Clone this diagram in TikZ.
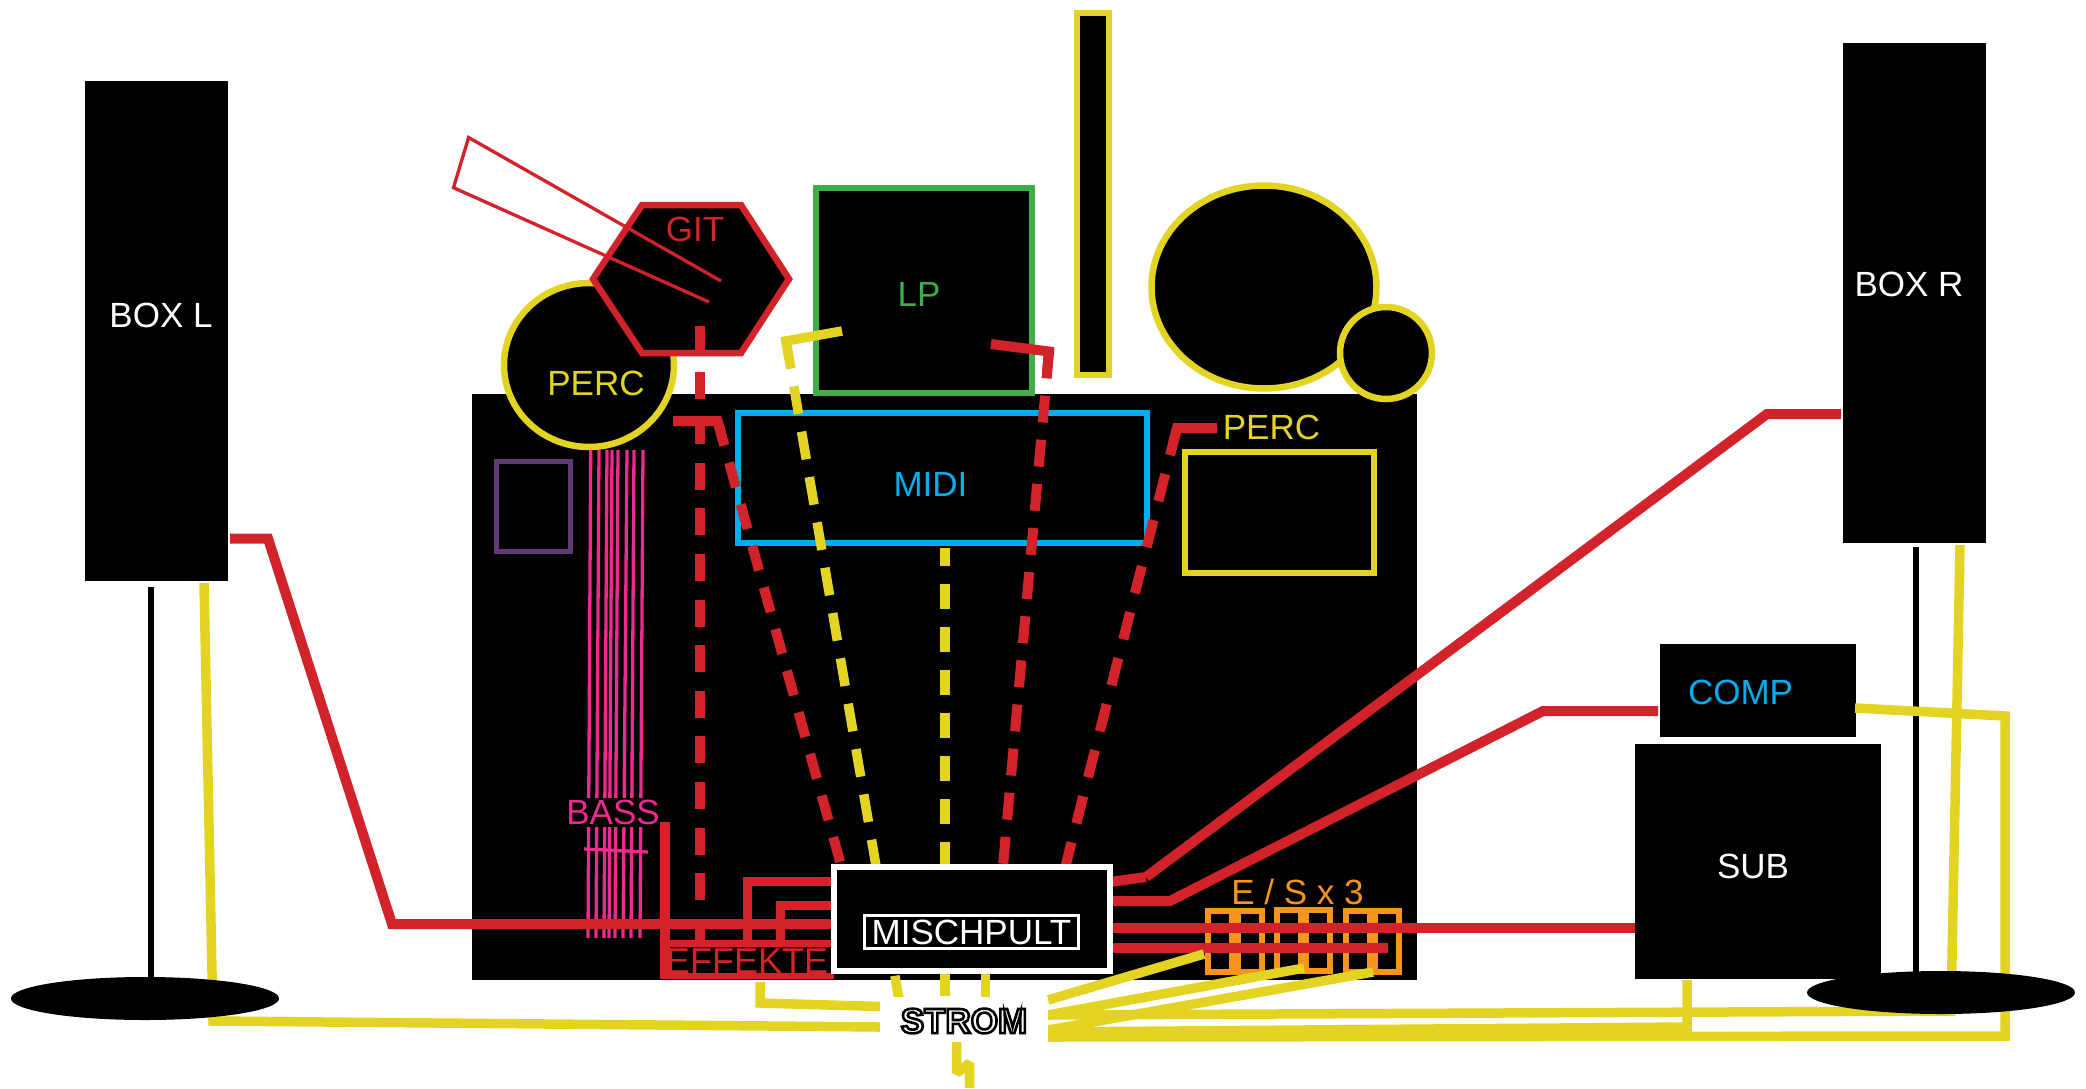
\documentclass[tikz,border=0pt]{standalone}
\usepackage{fontspec}
\setmainfont{Liberation Sans}
\usetikzlibrary{shapes.geometric}
\definecolor{cred}{HTML}{D2232A}
\definecolor{cyel}{HTML}{E3D424}
\definecolor{cgrn}{HTML}{3FAE49}
\definecolor{cblu}{HTML}{00AEEF}
\definecolor{cpnk}{HTML}{EC2A90}
\definecolor{cpur}{HTML}{5F3A75}
\definecolor{corg}{HTML}{F7941D}
\newcommand{\outlinedword}[1]{\special{pdf:code 2 Tr 2.6 w 0 0 0 RG}#1\special{pdf:code 0 Tr 1 w}}
\tikzset{
  x=1pt,y=-1pt,
  every node/.style={inner sep=0pt,outer sep=0pt},
  lbl/.style={font=\fontsize{35}{40}\selectfont},
  box/.style={fill=black,anchor=north west},
  framed/.style={fill=black,draw=#1,line width=6.5pt,anchor=north west},
  redline/.style={draw=cred,line width=10pt},
  yelline/.style={draw=cyel,line width=9.5pt},
  reddash/.style={redline,dash pattern=#1},
  yeldash/.style={yelline,dash pattern=#1},
  esbox/.style={draw=corg,line width=6pt,anchor=north west,minimum width=24pt,minimum height=61pt},
  string/.style={draw=cpnk,line width=3.3pt},
  neck/.style={draw=cred,line width=3.3pt},
  stand/.style={draw=black,line width=6pt},
  foot/.style={ellipse,fill=black,minimum width=268pt,minimum height=43pt},
}
\begin{document}
\begin{tikzpicture}
\useasboundingbox (0,0) rectangle (2086,1088);
\fill[white] (0,0) rectangle (2086,1088);

% ---------- stands and speakers
\node[box,minimum width=143pt,minimum height=500pt] (boxl) at (85,81) {};
\node[box,minimum width=143pt,minimum height=500pt] (boxr) at (1843,43) {};
\coordinate (sl1) at (151,587); \coordinate (sl2) at (151,980);
\coordinate (sr1) at (1916,547); \coordinate (sr2) at (1916,975);
\draw[stand] (sl1) -- (sl2);
\draw[stand] (sr1) -- (sr2);
\node[lbl,text=white] (boxltxt) at (161,315.5) {BOX L};
\node[lbl,text=white] (boxrtxt) at (1909,284) {BOX R};

% ---------- table
\node[box,minimum width=945pt,minimum height=586pt] (table) at (472,393.5) {};

% ---------- top row
\node[ellipse,fill=black,draw=cyel,line width=6.5pt,minimum width=170pt,minimum height=164pt] (percl) at (589,365) {};
\coordinate (h1) at (642,205); \coordinate (h2) at (741,205); \coordinate (h3) at (789,279);
\coordinate (h4) at (741,353); \coordinate (h5) at (642,353); \coordinate (h6) at (593,279);
\draw[fill=black,draw=cred,line width=6.5pt] (h1) -- (h2) -- (h3) -- (h4) -- (h5) -- (h6) -- cycle;
\coordinate (n1) at (721,281); \coordinate (n2) at (468.6,137.5);
\coordinate (n3) at (453.5,187.7); \coordinate (n4) at (709,302);
\draw[neck] (n1) -- (n2) -- (n3) -- (n4);
\node[lbl,text=cred] (gittxt) at (695,229) {GIT};
\node[lbl,text=cyel] (perctxt) at (596,383.5) {PERC};

\node[framed=cgrn,minimum width=216pt,minimum height=205pt] (lp) at (816,188) {};
\node[lbl,text=cgrn] (lptxt) at (919,294) {LP};
\node[framed=cyel,minimum width=32pt,minimum height=362pt] (tall) at (1077,13) {};
\node[ellipse,fill=black,draw=cyel,line width=6.5pt,minimum width=225pt,minimum height=203pt] (bigperc) at (1264,287) {};
\node[circle,fill=black,draw=cyel,line width=6.5pt,minimum size=92pt] (smallperc) at (1386,353) {};

% ---------- on the table
\node[framed=cblu,minimum width=409pt,minimum height=130pt] (midi) at (738,413) {};
\node[lbl,text=cblu] (miditxt) at (930.5,484) {MIDI};
\node[lbl,text=cyel] (percrtxt) at (1271.5,427) {PERC};
\node[framed=cyel,minimum width=189pt,minimum height=121pt] (percr) at (1185,452) {};
\node[anchor=north west,draw=cpur,line width=5pt,minimum width=74pt,minimum height=90pt] (purple) at (496.5,461.5) {};

% ---------- bass
\foreach \a/\b [count=\i] in {590.7/588,599/596,607/604,612/609,618/615,627/623,634/631,643/640}{
  \coordinate (st\i) at (\a,450); \coordinate (sb\i) at (\b,938);
  \draw[string] (st\i) -- (sb\i);
}
\node[lbl,text=cpnk,fill=black,minimum height=29pt,minimum width=95pt] (bass) at (613,812.5) {BASS};
\coordinate (bc1) at (584,849); \coordinate (bc2) at (648,852);
\draw[string] (bc1) -- (bc2);

% ---------- effects
\node[lbl,text=cred,font=\fontsize{36}{40}\selectfont] (effekte) at (747,961) {EFFEKTE};
\coordinate (fxa) at (664.5,822); \coordinate (fxb) at (664.5,979);
\coordinate (fxc) at (660,943.5); \coordinate (fxd) at (834,943.5);
\coordinate (fxe) at (660,976); \coordinate (fxf) at (834,976);
\draw[redline] (fxa) -- (fxb);
\draw[cred,line width=6.5pt] (fxc) -- (fxd);
\draw[cred,line width=6.5pt] (fxe) -- (fxf);

% ---------- E/S boxes
\node[lbl,text=corg] (estxt) at (1297.5,891.5) {E / S x 3};
\foreach \n/\x/\y in {es1/1208/911,es2/1237.5/911,es3/1277/910,es4/1306/910,es5/1346/911,es6/1375/911}{
  \node[esbox] (\n) at (\x,\y) {};
}

% ---------- sub and comp
\node[box,minimum width=246pt,minimum height=235pt] (sub) at (1635,744) {};
\node[lbl,text=white] (subtxt) at (1753,866.5) {SUB};
\node[box,minimum width=196pt,minimum height=93pt] (comp) at (1660,644) {};
\node[lbl,text=cblu] (comptxt) at (1740.5,692) {COMP};

% ---------- connector points
\coordinate (mixL) at (835,924);
\coordinate (ra) at (230,538.5); \coordinate (rb) at (268,538.5); \coordinate (rc) at (392,924);
\coordinate (fx1a) at (747,943); \coordinate (fx1b) at (747,881); \coordinate (fx1c) at (835,881);
\coordinate (fx2a) at (780,943); \coordinate (fx2b) at (780,905); \coordinate (fx2c) at (835,905);
\coordinate (git1) at (700,326); \coordinate (git2) at (700,943);
\coordinate (hk1a) at (673,421); \coordinate (hk1b) at (717.5,421); \coordinate (hk1c) at (722.5,439);
\coordinate (hk1d) at (841,865);
\coordinate (hk2a) at (842,331); \coordinate (hk2b) at (786,341); \coordinate (hk2c) at (789,358);
\coordinate (hk2d) at (899,1000);
\coordinate (hk3a) at (991,344); \coordinate (hk3b) at (1049,351.5); \coordinate (hk3c) at (1047,372);
\coordinate (hk3d) at (1003,866);
\coordinate (hk4a) at (1217,428); \coordinate (hk4b) at (1177,428); \coordinate (hk4c) at (1173,444);
\coordinate (hk4d) at (1065,868);
\coordinate (mid1) at (945,547.5); \coordinate (mid2) at (945,997);
\coordinate (st2a) at (985.6,972); \coordinate (st2b) at (985.6,997);

% ---------- red cables
\draw[redline] (ra) -- (rb) -- (rc) -- (mixL);
\draw[redline,line width=9pt] (fx1a) -- (fx1b) -- (fx1c);
\draw[redline,line width=9pt] (fx2a) -- (fx2b) -- (fx2c);
\draw[reddash={on 27pt off 18.6pt}] (git1) -- (git2);
\draw[redline] (hk1a) -- (hk1b) -- (hk1c);
\draw[reddash={on 25.5pt off 17.7pt}] (hk1b) -- (hk1d);
\draw[redline] (hk3a) -- (hk3b) -- (hk3c);
\draw[reddash={on 27pt off 17.3pt}] (hk3b) -- (hk3d);
\draw[redline] (hk4a) -- (hk4b) -- (hk4c);
\draw[reddash={on 28pt off 19.5pt}] (hk4b) -- (hk4d);

% ---------- yellow dashed
\draw[yelline] (hk2a) -- (hk2b) -- (hk2c);
\draw[yeldash={on 28pt off 18pt}] (hk2b) -- (hk2d);
\draw[yelline,dash pattern=on 25pt off 18pt,dash phase=6.5pt] (mid1) -- (mid2);
\draw[yelline] (st2a) -- (st2b);

% ---------- right red cables
\coordinate (o1a) at (1110,882); \coordinate (o1b) at (1146,877); \coordinate (o1c) at (1767,414); \coordinate (o1d) at (1841,414);
\coordinate (o2a) at (1110,901); \coordinate (o2b) at (1170,901); \coordinate (o2c) at (1543,711); \coordinate (o2d) at (1658,711);
\coordinate (o3a) at (1110,928); \coordinate (o3b) at (1635,928);
\coordinate (o4a) at (1110,948); \coordinate (o4b) at (1388,948);
\draw[redline] (o1a) -- (o1b);
\draw[redline] (o1b) -- (o1c) -- (o1d);
\draw[redline] (o2a) -- (o2b) -- (o2c) -- (o2d);
\draw[redline] (o3a) -- (o3b);
\draw[redline] (o4a) -- (o4b);

% ---------- mixer
\node[anchor=north west,fill=black,draw=white,line width=6pt,minimum width=276pt,minimum height=104pt] (mix) at (834,866.5) {};
\node[lbl,text=white,draw=white,line width=2.2pt,minimum width=214pt,minimum height=33pt] (mixtxt) at (971.5,932) {MISCHPULT};

% ---------- yellow power
\coordinate (yA) at (1048,1000); \coordinate (yA2) at (1204,954);
\coordinate (yB) at (1048,1015); \coordinate (yB2) at (1304,968);
\coordinate (yC) at (1048,1030); \coordinate (yC2) at (1373,972);
\coordinate (yD) at (1048,1015); \coordinate (yD2) at (1951,1011); \coordinate (yD3) at (1960,545);
\coordinate (yE) at (1048,1032); \coordinate (yE2) at (1687,1027); \coordinate (yE3) at (1687,980);
\coordinate (yF) at (1048,1037); \coordinate (yF2) at (2005,1036); \coordinate (yF3) at (2005,716); \coordinate (yF4) at (1855,708);
\coordinate (yG) at (204,583); \coordinate (yG2) at (213,1021); \coordinate (yG3) at (880,1027);
\coordinate (yH) at (760,982); \coordinate (yH2) at (760,1003); \coordinate (yH3) at (880,1006.5);
\coordinate (yJ) at (956.5,1042); \coordinate (yJ2) at (956.5,1073); \coordinate (yJ3) at (969.5,1063); \coordinate (yJ4) at (969.5,1088);
\draw[yelline] (yA) -- (yA2);
\draw[yelline] (yB) -- (yB2);
\draw[yelline] (yC) -- (yC2);
\draw[yelline] (yD) -- (yD2) -- (yD3);
\draw[yelline] (yE) -- (yE2) -- (yE3);
\draw[yelline] (yF) -- (yF2) -- (yF3) -- (yF4);
\draw[yelline] (yG) -- (yG2) -- (yG3);
\draw[yelline] (yH) -- (yH2) -- (yH3);
\draw[yelline,line join=bevel] (yJ) -- (yJ2) -- (yJ3) -- (yJ4);

% ---------- feet
\node[foot] (footl) at (145,998.5) {};
\node[foot] (footr) at (1941,992.5) {};

% ---------- strom
\node[fill=white,minimum width=168pt,minimum height=45pt] (strombg) at (964,1019.5) {};
\node[text=white,font=\fontsize{35}{40}\selectfont\bfseries] (strom) at (964,1021) {\outlinedword{STROM}};
\end{tikzpicture}
\end{document}
